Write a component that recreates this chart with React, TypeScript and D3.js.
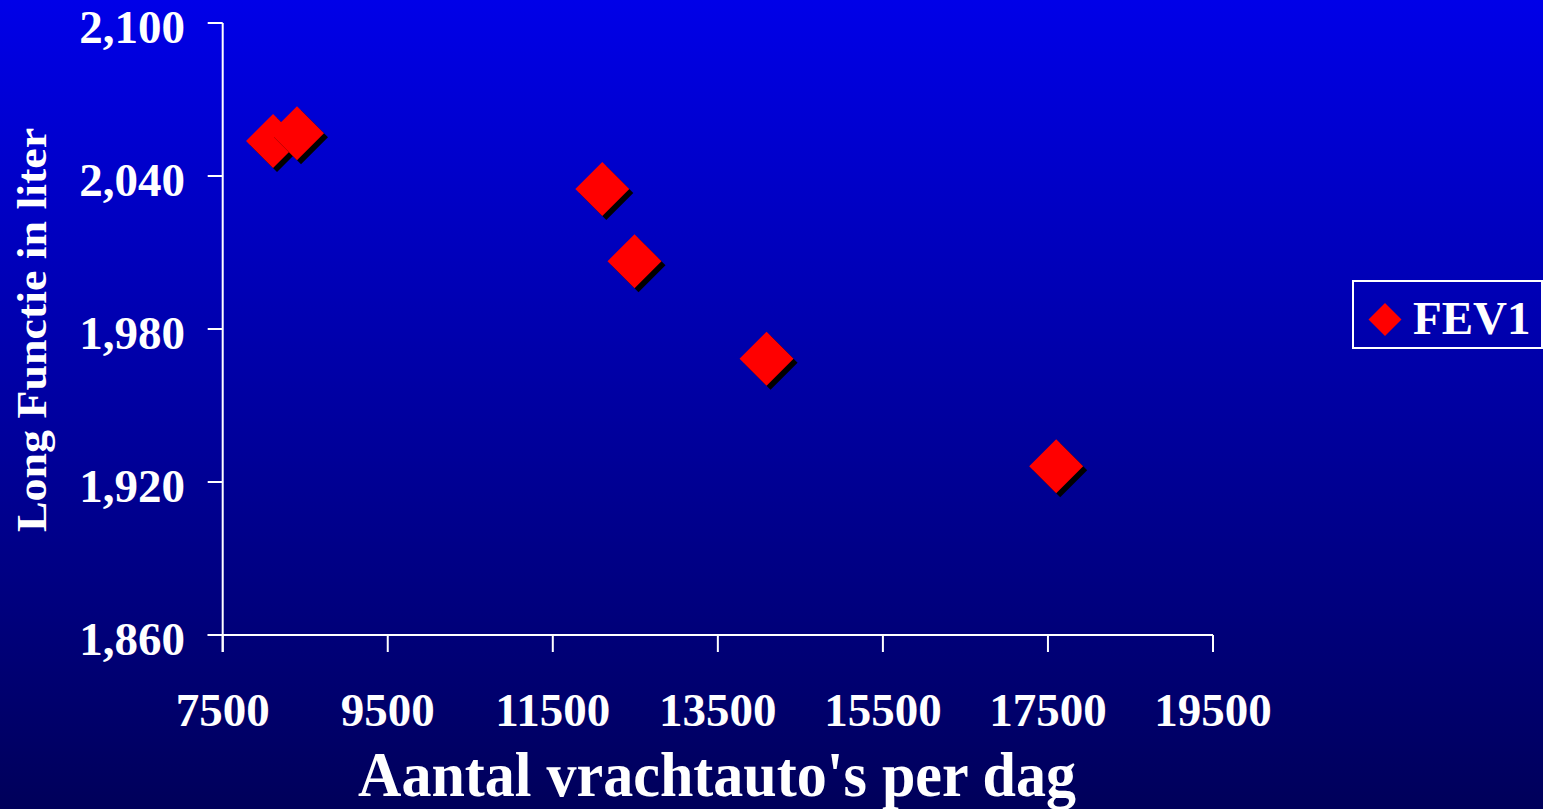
import React from "react";
import * as d3 from "d3";

// Trucks per day vs. lung function (FEV1, litres)
const trucksPerDay = [8110, 8400, 12100, 12490, 14090, 17600];
const fev1 = [2053.7, 2056.8, 2034.9, 2006.6, 1968.3, 1926.2];
const xTicks = [7500, 9500, 11500, 13500, 15500, 17500, 19500];
const yTicks = [1860, 1920, 1980, 2040, 2100];
const seriesName = "FEV1";
const xTitle = "Aantal vrachtauto's per dag";
const yTitle = "Long Functie in liter";

const W = 1543;
const H = 809;
const FONT = "'Liberation Serif', 'Times New Roman', serif";

export default function App() {
  const x = d3.scaleLinear().domain([7500, 19500]).range([222.7, 1213]);
  const y = d3.scaleLinear().domain([1860, 2100]).range([635, 23]);
  const fmt = d3.format(",");
  const r = 27;
  const diamond = (cx: number, cy: number, h: number) =>
    `M${cx},${cy - h}L${cx + h},${cy}L${cx},${cy + h}L${cx - h},${cy}Z`;

  const points = trucksPerDay.map((v, i) => ({ x: x(v), y: y(fev1[i]) }));

  return (
    <svg
      width={W}
      height={H}
      style={{ position: "absolute", left: 0, top: 0, display: "block" }}
      fontFamily={FONT}
      fontWeight="bold"
    >
      <defs>
        <linearGradient id="bg" x1="0" y1="0" x2="0" y2="1">
          <stop offset="0" stopColor="#0000e8" />
          <stop offset="1" stopColor="#00005a" />
        </linearGradient>
      </defs>
      <rect x={0} y={0} width={W} height={H} fill="url(#bg)" />

      {/* axes */}
      <g stroke="#fff" strokeWidth={2} fill="none">
        <line x1={x(7500)} x2={x(7500)} y1={y(2100)} y2={y(1860) + 17} />
        <line x1={x(7500) - 15} x2={x(19500)} y1={y(1860)} y2={y(1860)} />
        {yTicks.map((t) => (
          <line key={t} x1={x(7500) - 15} x2={x(7500)} y1={y(t)} y2={y(t)} />
        ))}
        {xTicks.map((t) => (
          <line key={t} x1={x(t)} x2={x(t)} y1={y(1860)} y2={y(1860) + 17} />
        ))}
      </g>

      {/* tick labels */}
      <g fill="#fff" fontSize={47}>
        {yTicks.map((t) => (
          <text key={t} x={185} y={y(t) + 20} textAnchor="end">
            {fmt(t)}
          </text>
        ))}
        {xTicks.map((t) => (
          <text key={t} x={x(t)} y={726} textAnchor="middle">
            {t}
          </text>
        ))}
      </g>

      {/* axis titles */}
      <text
        x={358}
        y={796}
        fill="#fff"
        fontSize={64}
        textLength={718}
        lengthAdjust="spacingAndGlyphs"
      >
        {xTitle}
      </text>
      <text
        transform="translate(46,532) rotate(-90)"
        fill="#fff"
        fontSize={43}
        textLength={404}
        lengthAdjust="spacingAndGlyphs"
      >
        {yTitle}
      </text>

      {/* markers with drop shadow */}
      <g>
        {points.map((p, i) => (
          <g key={i}>
            <path d={diamond(p.x + 4, p.y + 4, r)} fill="#000" />
            <path d={diamond(p.x, p.y, r)} fill="#ff0000" />
          </g>
        ))}
      </g>

      {/* legend */}
      <rect
        x={1353}
        y={281}
        width={189}
        height={67}
        fill="none"
        stroke="#fff"
        strokeWidth={2}
      />
      <path d={diamond(1385, 319.5, 16.5)} fill="#ff0000" />
      <text x={1413} y={334} fill="#fff" fontSize={47}>
        {seriesName}
      </text>
    </svg>
  );
}
